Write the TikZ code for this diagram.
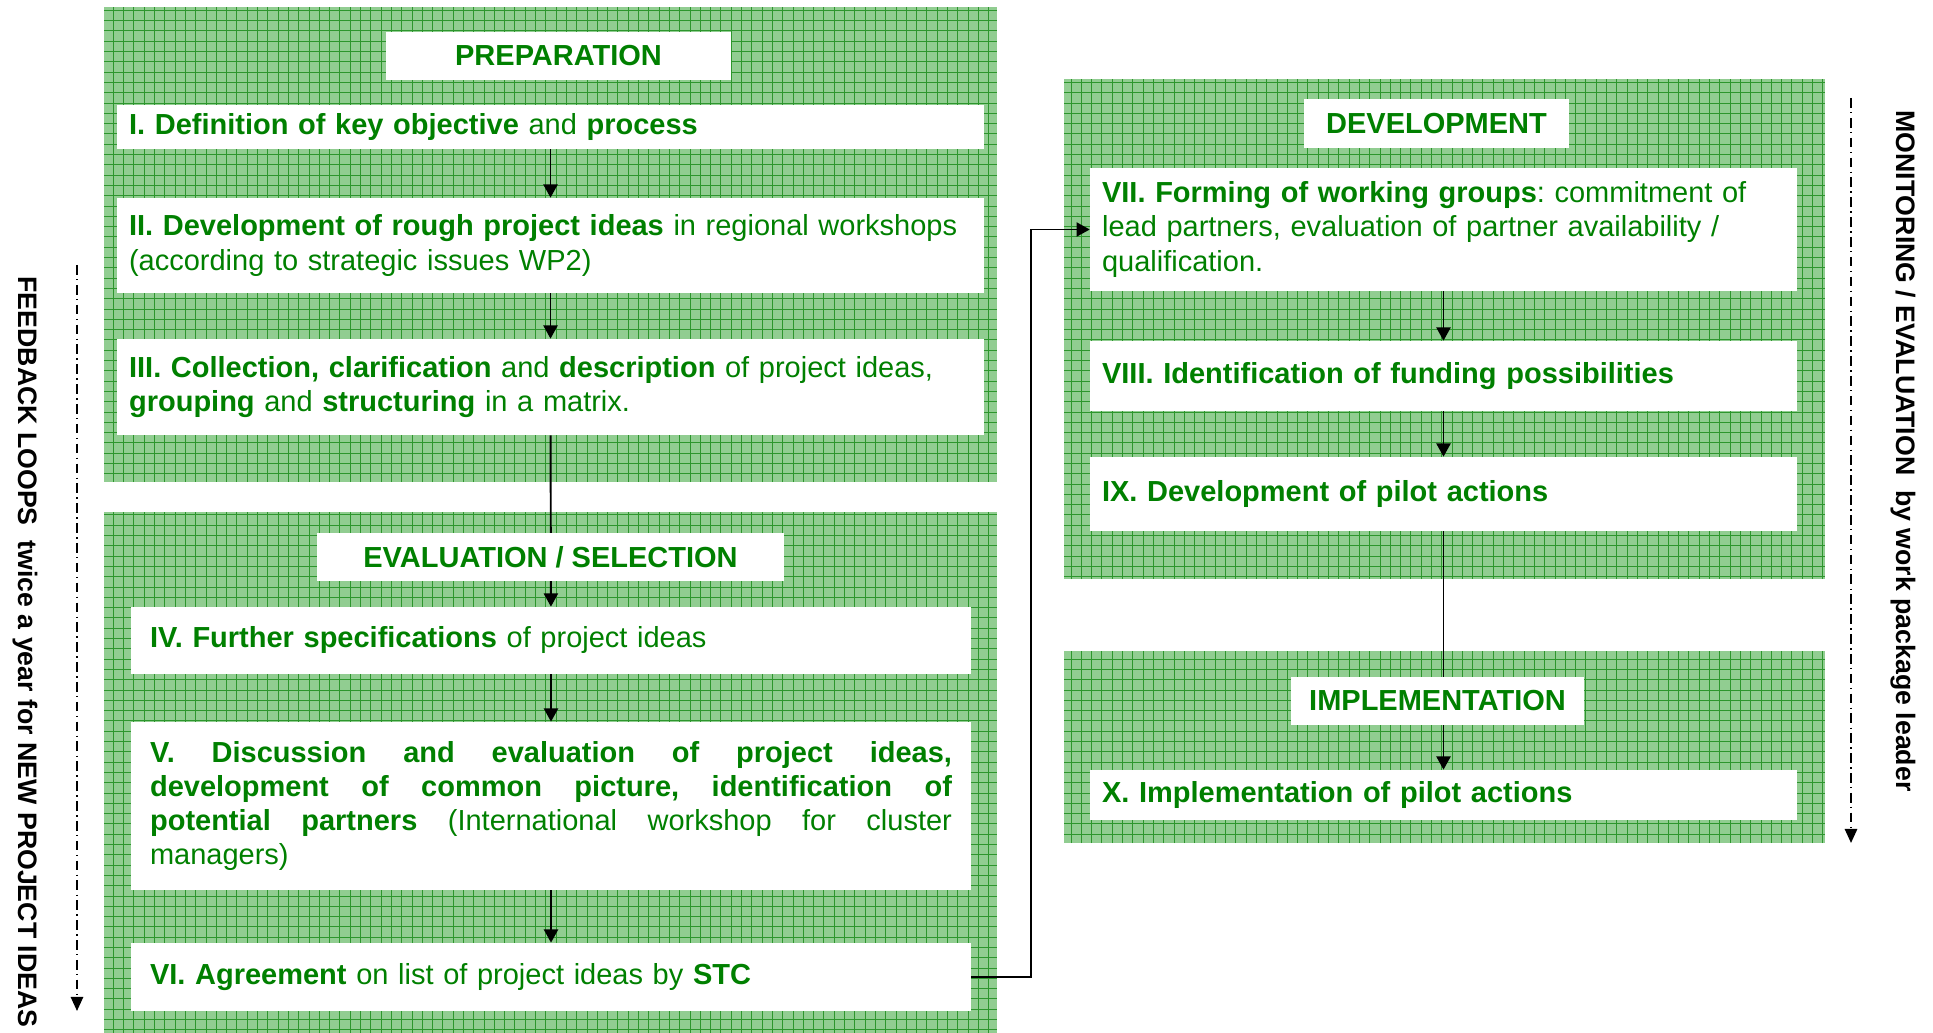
\documentclass[tikz,border=0pt]{standalone}
\usepackage{fontspec}
\setmainfont{Liberation Sans}
\usetikzlibrary{arrows.meta}
\definecolor{textgreen}{RGB}{0,128,0}
\definecolor{panelgreen}{RGB}{145,205,145}
\definecolor{gridgreen}{RGB}{45,150,45}
\newcommand{\boxsize}{\fontsize{16.5}{19.5}\selectfont\frenchspacing}
\tikzset{
  stepbox/.style={font=\boxsize, fill=white, text=textgreen, align=left, inner xsep=0.24cm, inner ysep=0pt},
  titlebox/.style={font=\boxsize\bfseries, fill=white, text=textgreen, inner sep=0pt},
  sidetext/.style={font=\fontsize{15.2}{18}\selectfont\bfseries, inner sep=0pt, rotate=-90},
  flow/.style={line width=1.1pt, -{Triangle[length=7.5pt,width=8pt]}},
  loopline/.style={line width=1.1pt, dash pattern=on 5.5pt off 2.5pt on 0.8pt off 2.5pt, -{Triangle[length=8pt,width=7pt]}},
  gridline/.style={gridgreen, line width=0.45pt, step=0.206cm}
}

\begin{document}
\begin{tikzpicture}[x=0.02cm,y=-0.02cm]
\useasboundingbox (0,0) rectangle (1933,1033);

\foreach \xa/\ya/\xb/\yb in {104/7/997/482, 104/512/997/1033, 1064/79/1825/579, 1064/651/1825/843} {
  \begin{scope}
  \clip (\xa,\ya) rectangle (\xb,\yb);
  \fill[panelgreen] (\xa,\ya) rectangle (\xb,\yb);
  \draw[gridline] (\xa,\ya) grid (\xb,\yb);
  \end{scope}
}

\node[stepbox, text width=16.86cm, minimum height=0.88cm] (I) at (550.5,127) {\textbf{I. Definition of key objective} and \textbf{process}};
\node[stepbox, text width=16.86cm, minimum height=1.9cm] (II) at (550.5,245.5) {\textbf{II. Development of rough project ideas} in regional workshops\\(according to strategic issues WP2)};
\node[stepbox, text width=16.86cm, minimum height=1.92cm] (III) at (550.5,387) {\textbf{III. Collection, clarification} and \textbf{description} of project ideas,\\\textbf{grouping} and \textbf{structuring} in a matrix.};

\node[stepbox, inner xsep=0.38cm, text width=16.04cm, minimum height=1.34cm] (IV) at (551,640.5) {\textbf{IV. Further specifications} of project ideas};
\node[stepbox, inner xsep=0.38cm, text width=16.04cm, minimum height=3.36cm, align=justify] (V) at (551,806) {\hyphenpenalty=10000 \textbf{V. Discussion and evaluation of project ideas,\linebreak development of common picture, identification of\linebreak potential partners} (International workshop for cluster\linebreak managers)};
\node[stepbox, inner xsep=0.38cm, text width=16.04cm, minimum height=1.36cm] (VI) at (551,977) {\textbf{VI. Agreement} on list of project ideas by \textbf{STC}};

\node[stepbox, text width=13.66cm, minimum height=2.46cm] (VII) at (1443.5,229.5) {\textbf{VII. Forming of working groups}: commitment of\\lead partners, evaluation of partner availability /\\qualification.};
\node[stepbox, text width=13.66cm, minimum height=1.4cm] (VIII) at (1443.5,376) {\textbf{VIII. Identification of funding possibilities}};
\node[stepbox, text width=13.66cm, minimum height=1.48cm] (IX) at (1443.5,494) {\textbf{IX. Development of pilot actions}};
\node[stepbox, text width=13.66cm, minimum height=1.0cm] (X) at (1443.5,795) {\textbf{X. Implementation of pilot actions}};

\draw[flow] (I) -- (II);
\draw[flow] (II) -- (III);
\draw[flow] (III) -- (IV);
\draw[flow] (IV) -- (V);
\draw[flow] (V) -- (VI);
\draw[flow] (VI.east) -- ++(60,0) |- (VII.west);
\draw[flow] (VII) -- (VIII);
\draw[flow] (VIII) -- (IX);
\draw[flow] (IX) -- (X);

\node[titlebox, minimum width=6.9cm, minimum height=0.96cm] (prep) at (558.5,56) {PREPARATION};
\node[titlebox, minimum width=9.34cm, minimum height=0.96cm] (eval) at (550.5,557) {EVALUATION / SELECTION};
\node[titlebox, minimum width=5.3cm, minimum height=0.98cm] (dev) at (1436.5,123.5) {DEVELOPMENT};
\node[titlebox, minimum width=5.86cm, minimum height=0.96cm] (impl) at (1437.5,701) {IMPLEMENTATION};

\coordinate (fbtop) at (77,265);
\coordinate (fbend) at (77,1011);
\draw[loopline] (fbtop) -- (fbend);
\node[sidetext] (feedback) at (25,652) {FEEDBACK LOOPS\ \ twice a year for NEW PROJECT IDEAS};

\coordinate (montop) at (1851,98);
\coordinate (monend) at (1851,843);
\draw[loopline] (montop) -- (monend);
\node[sidetext] (monitor) at (1903,451) {MONITORING / EVALUATION\ \ by work package leader};
\end{tikzpicture}
\end{document}
